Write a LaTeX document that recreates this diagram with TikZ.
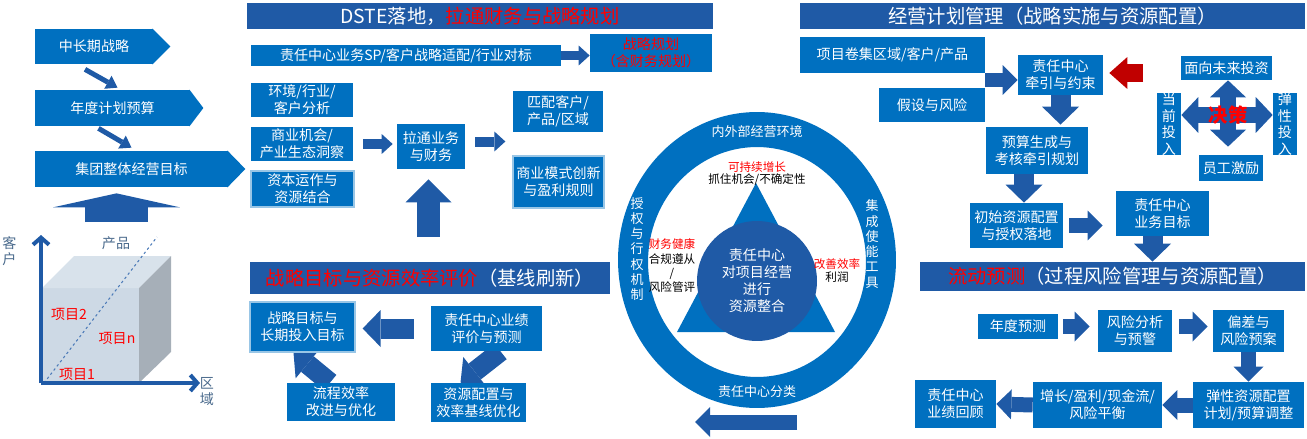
\documentclass[tikz,border=0pt]{standalone}
\usepackage{fontspec}
\setmainfont{Noto Sans CJK SC}
\usetikzlibrary{arrows.meta, positioning, calc, backgrounds}
\definecolor{pblue}{HTML}{0070C0}
\definecolor{dblue}{HTML}{1F5AA6}
\definecolor{redarr}{HTML}{C00000}
\definecolor{axgray}{HTML}{4A6A8C}
\definecolor{cubefront}{HTML}{CDD9E5}
\definecolor{cubetop}{HTML}{D8E2EB}
\definecolor{cubeside}{HTML}{A6AFB8}
\tikzset{
  font=\fontsize{8}{9.6}\selectfont,
  blk/.style={fill=pblue, text=white, align=center, inner sep=1pt},
  rimmed/.style={draw=pblue!40!white, line width=0.7pt},
  wh/.style 2 args={minimum width=#1*0.02cm, minimum height=#2*0.02cm},
  hdr/.style={fill=dblue, text=white, inner sep=0pt, font=\fontsize{11}{13}\selectfont},
  thinarr/.style={draw=dblue, line width=0.1cm, -{Triangle[length=0.22cm, width=0.3cm, line width=0pt]}},
  liftarr/.style={draw=dblue, line width=1.26cm, -{Triangle[length=0.28cm, width=2.54cm, line width=0pt]}},
  sarr/.style={draw=dblue, line width=0.2cm, -{Triangle[length=0.22cm, width=0.4cm, line width=0pt]}},
  marr/.style={draw=dblue, line width=0.3cm, -{Triangle[length=0.3cm, width=0.6cm, line width=0pt]}},
  barr/.style={draw=dblue, line width=0.4cm, -{Triangle[length=0.36cm, width=0.74cm, line width=0pt]}},
  uparr/.style={draw=dblue, line width=0.46cm, -{Triangle[length=0.46cm, width=0.92cm, line width=0pt]}},
  redarrow/.style={draw=redarr, line width=0.36cm, -{Triangle[length=0.36cm, width=0.64cm, line width=0pt]}},
  xarr/.style={draw=dblue, line width=0.32cm, -{Triangle[length=0.34cm, width=0.72cm, line width=0pt]}},
  axis/.style={draw=dblue, line width=0.08cm, -{Straight Barb[length=0.14cm, width=0.32cm]}},
  note/.style={inner sep=0pt, align=center, font=\fontsize{6.6}{8}\selectfont},
  ringtxt/.style={text=white, inner sep=0pt, align=center, font=\fontsize{7.4}{8.7}\selectfont},
  axlab/.style={text=axgray, inner sep=0pt, align=center, font=\fontsize{8}{9.2}\selectfont},
  itm/.style={text=red, inner sep=0pt, font=\fontsize{8}{9.4}\selectfont},
  stack/.style={blk, inner ysep=-1pt, font=\fontsize{8}{9.4}\selectfont}
}

\begin{document}
\begin{tikzpicture}[x=0.02cm, y=-0.02cm]
  \useasboundingbox (0,0) rectangle (1307,439);

  % left column: planning chain and project cube
  \node[blk, wh={118}{35}] (ltp) at (94,46.5) {中长期战略};
  \node[blk, wh={155}{36}] (ann) at (112.5,108) {年度计划预算};
  \node[blk, wh={193}{36}] (grp) at (131.5,169) {集团整体经营目标};
  \foreach \n/\d in {ltp/17, ann/13, grp/17}
    \fill[pblue] ([xshift=-0.5pt]\n.north east) -- ($(\n.east)+(\d,0)$) -- ([xshift=-0.5pt]\n.south east) -- cycle;
  \draw[thinarr] ($(ltp.south)+(-9,5)$) -- ($(ann.north)+(5,-2)$);
  \draw[thinarr] ($(ann.south)+(-14,2)$) -- ($(grp.north)+(0,-3)$);
  \coordinate (cubetop) at (116.5,222);
  \draw[liftarr] (cubetop) -- ($(grp.south)+(-15,6)$);

  \fill[cubefront] (42,288) rectangle (139,383);
  \fill[cubetop] (42,288) -- (74,256) -- (171,256) -- (139,288) -- cycle;
  \fill[cubeside] (139,288) -- (171,256) -- (171,352) -- (139,383) -- cycle;
  \draw[dblue!80, line width=0.6pt, dash pattern=on 1.4pt off 1.6pt] (44,383) -- (157,237);
  \coordinate (orig) at (41,383);
  \draw[axis] (orig) -- (41,235);
  \draw[axis] (orig) -- (200,383);
  \node[axlab] (axc) at (9.5,251) {客\\户};
  \node[axlab] (axp) at (116,243) {产品};
  \node[axlab] (axr) at (207,391.5) {区\\域};
  \node[itm] (it2) at (69,314) {项目2};
  \node[itm] (itn) at (117,338) {项目n};
  \node[itm] (it1) at (77,374) {项目1};

  % DSTE block
  \node[hdr, wh={466}{26}] (ttl1) at (480,16) {DSTE落地，\textcolor{red}{拉通财务与战略规划}};
  \node[blk, wh={310}{21}] (sp) at (406,55.5) {责任中心业务SP/客户战略适配/行业对标};
  \node[blk, wh={122}{38}, text=red] (plan) at (651,53) {战略规划\\（含财务规划）};
  \node[blk, wh={102}{34}] (env) at (302,100) {环境/行业/\\客户分析};
  \node[blk, wh={102}{34}] (opp) at (302,144) {商业机会/\\产业生态洞察};
  \node[blk, rimmed, wh={103}{36}] (cap) at (302.5,189) {资本运作与\\资源结合};
  \node[blk, wh={68}{45}] (link) at (431,146.5) {拉通业务\\与财务};
  \node[blk, wh={90}{41}] (mat) at (558,111.5) {匹配客户/\\产品/区域};
  \node[blk, rimmed, wh={91}{52}] (biz) at (558.5,182) {商业模式创新\\与盈利规则};
  \coordinate (linkfoot) at (428.5,237);

  % baseline evaluation block
  \node[hdr, wh={360}{32}] (ttl2) at (430,278) {\textcolor{red}{战略目标与资源效率评价}（基线刷新）};
  \node[blk, rimmed, wh={105}{50}] (sgoal) at (302.5,327) {战略目标与\\长期投入目标};
  \node[blk, wh={111}{45}] (eval) at (486.5,328.5) {责任中心业绩\\评价与预测};
  \node[blk, wh={108}{38}] (proc) at (341,402) {流程效率\\改进与优化};
  \node[blk, wh={95}{39}] (res) at (478.5,402.5) {资源配置与\\效率基线优化};

  % responsibility centre wheel
  \fill[pblue, even odd rule] (757,260) ellipse [x radius=2.78cm, y radius=2.96cm]
    (757,262) ellipse [x radius=2.18cm, y radius=2.3cm];
  \fill[pblue] (756,183) -- (677,332) -- (835,332) -- cycle;
  \node[circle, fill=dblue, text=white, align=center, inner sep=0pt, minimum size=2.4cm,
    font=\fontsize{8}{9.7}\selectfont] (core) at (757,281) {责任中心\\对项目经营\\进行\\资源整合};
  \node[ringtxt] (rtop) at (757,132) {内外部经营环境};
  \node[ringtxt] (rbot) at (757,392) {责任中心分类};
  \node[ringtxt] (rlft) at (637,249) {授\\权\\与\\行\\权\\机\\制};
  \node[ringtxt] (rrgt) at (872,244) {集\\成\\使\\能\\工\\具};
  \node[note, text=red] (grow) at (757,167) {可持续增长};
  \node[note] (seize) at (757,180) {抓住机会/不确定性};
  \node[note, text=red] (fin) at (672,244) {财务健康};
  \node[note] (comp) at (672,273) {合规遵从\\/\\风险管评};
  \node[note, text=red] (eff) at (837,264) {改善效率};
  \node[note] (prof) at (837,277) {利润};
  \coordinate (loopS) at (797,422);
  \coordinate (loopE) at (695,422);

  % operating plan block
  \node[hdr, wh={505}{26}] (ttl3) at (1052.5,16) {经营计划管理（战略实施与资源配置）};
  \node[blk, wh={185}{36}] (prj) at (892.5,55) {项目卷集区域/客户/产品};
  \node[blk, wh={106}{34}] (ass) at (932,105) {假设与风险};
  \node[blk, wh={85}{40}] (trac) at (1060.5,75) {责任中心\\牵引与约束};
  \node[blk, wh={102}{47}] (bud) at (1037,150.5) {预算生成与\\考核牵引规划};
  \node[blk, wh={93}{45}] (init) at (1016.5,225.5) {初始资源配置\\与授权落地};
  \node[blk, wh={93}{45}] (tgt) at (1162.5,213.5) {责任中心\\业务目标};
  \node[blk, wh={91}{24}] (fut) at (1226.5,68) {面向未来投资};
  \node[stack, wh={24}{62}] (cur) at (1169,124) {当\\前\\投\\入};
  \node[stack, wh={24}{62}] (ela) at (1285,124) {弹\\性\\投\\入};
  \node[blk, wh={64}{26}] (emp) at (1231,168) {员工激励};
  \coordinate (dc) at (1228,115);
  \coordinate (redS) at (1143,73);
  \node[text=red, inner sep=0pt, font=\fontsize{11}{13}\selectfont\bfseries] (dec) at (dc) {决策};

  % rolling forecast block
  \node[hdr, wh={385}{29}] (ttl4) at (1112.5,276.5) {\textcolor{red}{流动预测}（过程风险管理与资源配置）};
  \node[blk, wh={80}{25}] (fy) at (1018,326.5) {年度预测};
  \node[blk, wh={74}{42}] (ra) at (1135,331) {风险分析\\与预警};
  \node[blk, wh={71}{42}] (dev) at (1248.5,331) {偏差与\\风险预案};
  \node[blk, wh={111}{46}] (flex) at (1248.5,405) {弹性资源配置\\计划/预算调整};
  \node[blk, wh={129}{46}] (bal) at (1097.5,405) {增长/盈利/现金流/\\风险平衡};
  \node[blk, wh={81}{48}] (rev) at (955.5,404) {责任中心\\业绩回顾};

  \begin{scope}[on background layer]
    \draw[sarr] (sp.east) -- (sp.east -| plan.west);
    \draw[sarr, shorten <=0.2cm, shorten >=0.08cm] (opp.east) -- (opp.east -| link.west);
    \draw[sarr] ([xshift=0.2cm, yshift=0.1cm]link.east) -- ++(30,0);
    \draw[uparr] (linkfoot) -- ([yshift=-0.2cm]linkfoot |- link.south);
    \draw[barr, shorten <=0.34cm, shorten >=0.14cm] (eval.west) -- (eval.west -| sgoal.east);
    \draw[barr] ($(proc.north)+(-11,0)$) -- ($(sgoal.south)+(-9,0)$);
    \draw[barr] ($(eval.south)+(14,0)$) -- ($(res.north)+(-18,0)$);
    \draw[marr] (loopS) -- (loopE);
    \draw[marr] ([yshift=-0.1cm]trac.west -| prj.east) -- ([yshift=-0.1cm]trac.west);
    \draw[redarrow, shorten >=0.12cm] (redS) -- (redS -| trac.east);
    \draw[barr, shorten >=0.04cm] (trac.south) -- (trac.south |- bud.north);
    \draw[barr] ([xshift=-0.26cm]bud.south) -- ([xshift=-0.26cm]bud.south |- init.north);
    \draw[marr, shorten <=0.12cm, shorten >=0.26cm] (init.east) -- (init.east -| tgt.west);
    \draw[barr] ([xshift=-0.2cm]tgt.south) -- ([xshift=-0.2cm]tgt.south |- ttl4.north);
    \draw[xarr] (dc) -- (dc |- fut.south);
    \draw[xarr, shorten >=0.16cm] (dc) -- (dc |- emp.north);
    \draw[xarr] (dc) -- (dc -| cur.east);
    \draw[xarr] (dc) -- (dc -| ela.west);
    \draw[marr, shorten <=0.1cm, shorten >=0.16cm] (fy.east) -- (fy.east -| ra.west);
    \draw[marr, shorten <=0.14cm, shorten >=0.1cm] (ra.east |- fy.east) -- (dev.west |- fy.east);
    \draw[marr] (dev.south) -- (dev.south |- flex.north);
    \draw[marr] (flex.west) -- (bal.east);
    \draw[marr] (bal.west) -- (rev.east);
  \end{scope}
\end{tikzpicture}
\end{document}
